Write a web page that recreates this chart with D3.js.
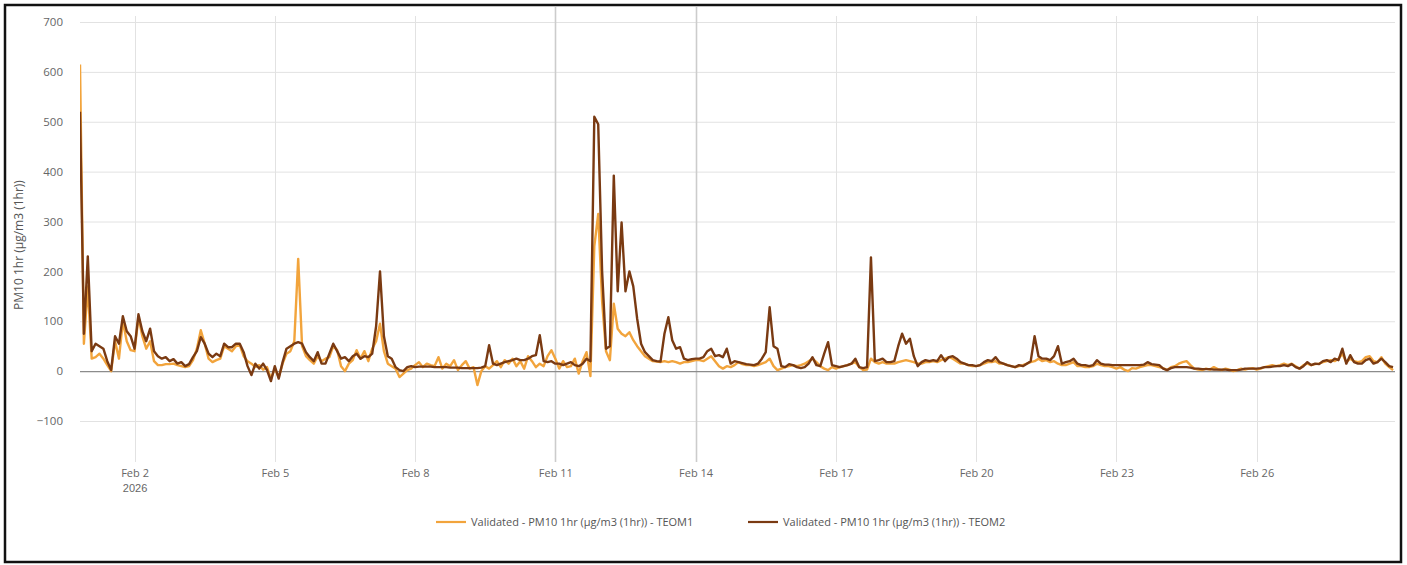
<!DOCTYPE html>
<html>
<head>
<meta charset="utf-8">
<script src="https://cdn.jsdelivr.net/npm/d3@7"></script>
<style>
  body { margin: 0; background: #fff; }
  svg { display: block; font-family: "Open Sans", sans-serif; }
</style>
</head>
<body>
<svg id="chart" width="1407" height="565"></svg>
<script>
// hourly series, sampled every 2 hours from Jan 31 20:00
const startTime = Date.UTC(2026, 0, 31, 20);
const stepHours = 2;

const teom1 = [
  615, 55, 170, 25, 28, 35, 25, 12, 0, 60,
  25, 100, 60, 42, 40, 108, 70, 45, 60, 20,
  12, 12, 14, 14, 15, 12, 10, 8, 10, 22,
  45, 82, 55, 25, 18, 22, 25, 50, 45, 40,
  50, 52, 30, 20, 15, 8, 12, 3, 8, -15,
  5, -12, 15, 35, 40, 60, 225, 50, 30, 22,
  15, 30, 20, 25, 28, 50, 42, 10, 0, 15,
  22, 42, 25, 40, 20, 45, 60, 95, 40, 15,
  10, 5, -12, -5, 2, 5, 12, 18, 8, 15,
  12, 10, 28, 5, 15, 10, 22, 2, 12, 20,
  5, 8, -28, 0, 10, 5, 12, 20, 8, 22,
  15, 25, 10, 20, 5, 30, 20, 8, 15, 10,
  30, 42, 25, 5, 20, 8, 10, 25, -5, 20,
  38, -10, 250, 315, 140, 40, 22, 135, 85, 75,
  70, 78, 62, 50, 40, 30, 25, 20, 19, 18,
  20, 18, 20, 18, 15, 18, 18, 20, 22, 22,
  20, 25, 30, 20, 10, 5, 10, 8, 12, 18,
  14, 12, 12, 10, 12, 15, 18, 25, 10, 2,
  5, 8, 10, 12, 10, 12, 15, 20, 25, 18,
  10, 5, 2, 8, 5, 8, 10, 12, 15, 18,
  8, 2, 3, 25, 18, 15, 18, 15, 15, 15,
  18, 20, 22, 20, 18, 15, 15, 18, 18, 20,
  18, 22, 25, 28, 25, 20, 15, 15, 12, 10,
  10, 12, 15, 18, 18, 20, 15, 15, 12, 10,
  8, 10, 12, 15, 18, 20, 25, 20, 22, 18,
  20, 15, 12, 12, 15, 18, 10, 10, 8, 8,
  10, 15, 12, 10, 10, 8, 5, 8, 3, 0,
  6, 5, 8, 10, 12, 12, 10, 8, 6, 2,
  8, 10, 15, 18, 20, 12, 5, 3, 2, 5,
  3, 8, 4, 2, 5, 3, 0, 2, 5, 3,
  5, 6, 3, 5, 8, 10, 12, 10, 12, 15,
  12, 15, 10, 5, 12, 15, 12, 14, 15, 18,
  20, 22, 20, 25, 35, 18, 25, 20, 18, 20,
  28, 30, 20, 18, 28, 15, 8, 2
];

const teom2 = [
  520, 75, 230, 40, 55, 50, 45, 20, 2, 70,
  55, 110, 80, 70, 45, 114, 80, 60, 85, 40,
  30, 25, 28, 20, 24, 15, 18, 10, 14, 28,
  40, 68, 55, 35, 28, 35, 30, 55, 48, 48,
  55, 55, 38, 10, -8, 15, 5, 15, 2, -20,
  10, -15, 18, 45, 50, 55, 58, 55, 38, 28,
  20, 38, 15, 15, 35, 55, 40, 25, 28, 20,
  30, 35, 25, 30, 28, 35, 90, 200, 70, 30,
  25, 8, 2, 0, 8, 10, 8, 9, 9, 9,
  9, 8, 8, 8, 8, 7, 7, 7, 6, 6,
  6, 6, 6, 7, 10, 52, 15, 12, 15, 18,
  20, 22, 25, 22, 22, 25, 30, 32, 72, 20,
  18, 20, 15, 15, 12, 15, 18, 12, 10, 15,
  25, 20, 510, 495, 200, 45, 50, 392, 160, 298,
  160, 200, 170, 105, 55, 38, 30, 22, 20, 19,
  75, 108, 62, 45, 48, 25, 22, 24, 25, 25,
  28, 40, 45, 30, 32, 28, 45, 15, 20, 18,
  16, 14, 13, 12, 15, 25, 38, 128, 50, 45,
  10, 8, 14, 12, 8, 6, 8, 15, 28, 12,
  10, 35, 58, 12, 10, 8, 10, 12, 15, 25,
  8, 6, 8, 228, 20, 22, 25, 18, 18, 20,
  50, 75, 55, 65, 30, 10, 18, 22, 20, 22,
  20, 32, 20, 28, 30, 25, 18, 15, 12, 12,
  10, 12, 18, 22, 20, 28, 18, 15, 12, 10,
  8, 12, 10, 15, 20, 70, 30, 25, 25, 22,
  30, 50, 15, 18, 20, 25, 15, 12, 12, 10,
  12, 22, 15, 13, 13, 12, 12, 12, 12, 12,
  12, 12, 12, 13, 18, 14, 13, 12, 5, 2,
  6, 8, 8, 8, 8, 7, 5, 5, 4, 4,
  4, 3, 3, 3, 3, 2, 2, 2, 3, 5,
  5, 5, 5, 6, 8, 8, 9, 10, 10, 12,
  10, 14, 8, 5, 10, 18, 12, 15, 14, 20,
  22, 18, 25, 22, 45, 15, 32, 18, 15, 15,
  22, 25, 15, 18, 25, 18, 10, 8
];

const yTicks = [-100, 0, 100, 200, 300, 400, 500, 600, 700];
const xTickDays = [2, 5, 8, 11, 14, 17, 20, 23, 26];
const highlightDays = [11, 14];
const seriesNames = [
  "Validated - PM10 1hr (µg/m3 (1hr)) - TEOM1",
  "Validated - PM10 1hr (µg/m3 (1hr)) - TEOM2"
];
const seriesColors = ["#f2a43c", "#7a3a12"];

const svg = d3.select("#chart");
const plot = { left: 80, right: 1395, top: 16, bottom: 462 };

const x = d3.scaleUtc()
  .domain([new Date(startTime), new Date(startTime + 675 * 3600e3)])
  .range([plot.left, plot.right]);

const y = d3.scaleLinear()
  .domain([-100, 700])
  .range([421, 22]);

const toPoints = arr => arr.map((v, i) => ({ t: new Date(startTime + i * stepHours * 3600e3), v }));
const series = [toPoints(teom1), toPoints(teom2)];
const tickDates = xTickDays.map(d => new Date(Date.UTC(2026, 1, d)));

// frame
svg.append("rect")
  .attr("x", 5).attr("y", 5)
  .attr("width", 1396).attr("height", 557)
  .attr("fill", "#fff")
  .attr("stroke", "#111")
  .attr("stroke-width", 2.5);

// horizontal grid
svg.append("g")
  .selectAll("line")
  .data(yTicks.filter(d => d !== 0))
  .join("line")
  .attr("x1", plot.left).attr("x2", plot.right)
  .attr("y1", d => y(d) + 0.5).attr("y2", d => y(d) + 0.5)
  .attr("stroke", "#e2e2e2");

// vertical grid
svg.append("g")
  .selectAll("line")
  .data(tickDates)
  .join("line")
  .attr("x1", d => Math.round(x(d)) + 0.5).attr("x2", d => Math.round(x(d)) + 0.5)
  .attr("y1", d => highlightDays.includes(d.getUTCDate()) ? 7 : plot.top)
  .attr("y2", plot.bottom)
  .attr("stroke", d => highlightDays.includes(d.getUTCDate()) ? "#cccccc" : "#e2e2e2")
  .attr("stroke-width", d => highlightDays.includes(d.getUTCDate()) ? 1.6 : 1);

// zero line
svg.append("line")
  .attr("x1", plot.left).attr("x2", plot.right)
  .attr("y1", y(0) + 0.5).attr("y2", y(0) + 0.5)
  .attr("stroke", "#8c8c8c")
  .attr("stroke-width", 1.2);

// y axis labels
const yAxis = svg.append("g")
  .attr("transform", "translate(63,0)")
  .call(d3.axisLeft(y).tickValues(yTicks).tickSize(0).tickPadding(0));
yAxis.select(".domain").remove();
yAxis.selectAll("text")
  .attr("fill", "#666")
  .style("font-size", "11.5px")
  .style("font-family", "Open Sans, sans-serif");

// x axis labels
const xAxis = svg.append("g")
  .attr("transform", `translate(0,${plot.bottom})`)
  .call(d3.axisBottom(x).tickValues(tickDates).tickSize(0).tickPadding(7)
    .tickFormat(d3.utcFormat("%b %-d")));
xAxis.select(".domain").remove();
xAxis.selectAll("text")
  .attr("fill", "#666")
  .style("font-size", "11px")
  .style("font-family", "Open Sans, sans-serif");
xAxis.selectAll(".tick")
  .filter((d, i) => i === 0)
  .append("text")
  .attr("y", 22)
  .attr("dy", "0.71em")
  .attr("fill", "#666")
  .style("font-size", "11px")
  .text("2026");

// y title
svg.append("text")
  .attr("transform", "translate(23,245) rotate(-90)")
  .attr("text-anchor", "middle")
  .attr("fill", "#555")
  .style("font-size", "12px")
  .text("PM10 1hr (µg/m3 (1hr))");

// lines
svg.append("clipPath").attr("id", "clip")
  .append("rect")
  .attr("x", plot.left).attr("y", plot.top)
  .attr("width", plot.right - plot.left).attr("height", plot.bottom - plot.top);

const line = d3.line()
  .x(d => x(d.t))
  .y(d => y(d.v));

svg.append("g")
  .attr("clip-path", "url(#clip)")
  .selectAll("path")
  .data(series)
  .join("path")
  .attr("d", line)
  .attr("fill", "none")
  .attr("stroke", (d, i) => seriesColors[i])
  .attr("stroke-width", 2.4)
  .attr("stroke-linejoin", "round");

// legend
const legendX = [436, 748];
const legend = svg.append("g")
  .selectAll("g")
  .data(seriesNames)
  .join("g")
  .attr("transform", (d, i) => `translate(${legendX[i]},522)`);
legend.append("line")
  .attr("x1", 0).attr("x2", 30)
  .attr("stroke", (d, i) => seriesColors[i])
  .attr("stroke-width", 2.2);
legend.append("text")
  .attr("x", 35)
  .attr("dy", "0.35em")
  .attr("fill", "#555")
  .style("font-size", "11px")
  .text(d => d);
</script>
</body>
</html>
